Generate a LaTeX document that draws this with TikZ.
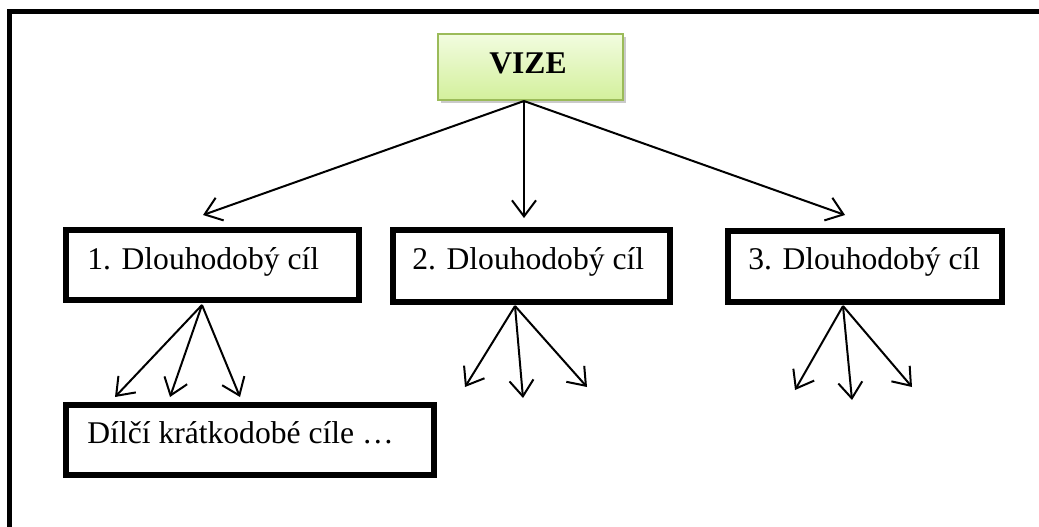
\documentclass[tikz,border=0pt]{standalone}
\usepackage{fontspec}
\setmainfont{Liberation Serif}
\usetikzlibrary{arrows.meta,shadows}
\definecolor{olive}{HTML}{9BBB59}
\definecolor{limetop}{HTML}{F2FCE0}
\definecolor{limebot}{HTML}{D3F09C}
\tikzset{
  goalbox/.style={draw=black, line width=3pt, rectangle, inner sep=0pt, fill=white},
  visionbox/.style={draw=olive, line width=1pt, rectangle, inner sep=0pt,
    top color=limetop, bottom color=limebot,
    drop shadow={shadow xshift=1.6pt, shadow yshift=-1.8pt, opacity=0.35, fill=black!60}},
  label/.style={anchor=base west, inner sep=0pt, font=\fontsize{15.8}{19}\selectfont},
  link/.style={line width=1pt, -{Straight Barb[length=8pt,width=12pt,line width=1pt]}},
}
\begin{document}
\begin{tikzpicture}[x=0.5pt, y=-0.5pt]
  \useasboundingbox (0,0) rectangle (1039,526);
  % outer frame, cut by the page edges on the right and bottom
  \begin{scope}
    \clip (0,0) rectangle (1039,526);
    \draw[line width=2.6pt] (9.5,11.5) rectangle (1060,560);
  \end{scope}

  % vision
  \node[visionbox, minimum width=92.5pt, minimum height=33pt] (vize) at (530,66.5) {};
  \node[anchor=base, inner sep=0pt, font=\fontsize{15.8}{19}\selectfont\bfseries] (vizet) at (528,73) {VIZE};

  % long-term goals
  \node[goalbox, minimum width=146.5pt, minimum height=35pt] (g1) at (212.5,265) {};
  \node[label] (g1t) at (87,269) {1. Dlouhodobý cíl};
  \node[goalbox, minimum width=138.5pt, minimum height=36pt] (g2) at (531.5,266) {};
  \node[label] (g2t) at (412,269) {2. Dlouhodobý cíl};
  \node[goalbox, minimum width=137pt, minimum height=35.5pt] (g3) at (865,266.5) {};
  \node[label] (g3t) at (748,269) {3. Dlouhodobý cíl};

  % short-term goals
  \node[goalbox, minimum width=184pt, minimum height=35pt] (s1) at (250,440) {};
  \node[label] (s1t) at (87,443) {Dílčí krátkodobé cíle …};

  % arrow origins and tips
  \coordinate (vo) at (524,101);
  \coordinate (a1) at (203,215);
  \coordinate (a2) at (524,218);
  \coordinate (a3) at (845,215);

  \coordinate (o1) at (202,305);
  \coordinate (b11) at (115,397);
  \coordinate (b12) at (170,397);
  \coordinate (b13) at (240,397);

  \coordinate (o2) at (515,306);
  \coordinate (b21) at (465,387);
  \coordinate (b22) at (523,398);
  \coordinate (b23) at (587,387);

  \coordinate (o3) at (843,306);
  \coordinate (b31) at (795,390);
  \coordinate (b32) at (852,400);
  \coordinate (b33) at (912,387);

  \foreach \t in {a1,a2,a3} \draw[link] (vo) -- (\t);
  \foreach \t in {b11,b12,b13} \draw[link] (o1) -- (\t);
  \foreach \t in {b21,b22,b23} \draw[link] (o2) -- (\t);
  \foreach \t in {b31,b32,b33} \draw[link] (o3) -- (\t);
\end{tikzpicture}
\end{document}
